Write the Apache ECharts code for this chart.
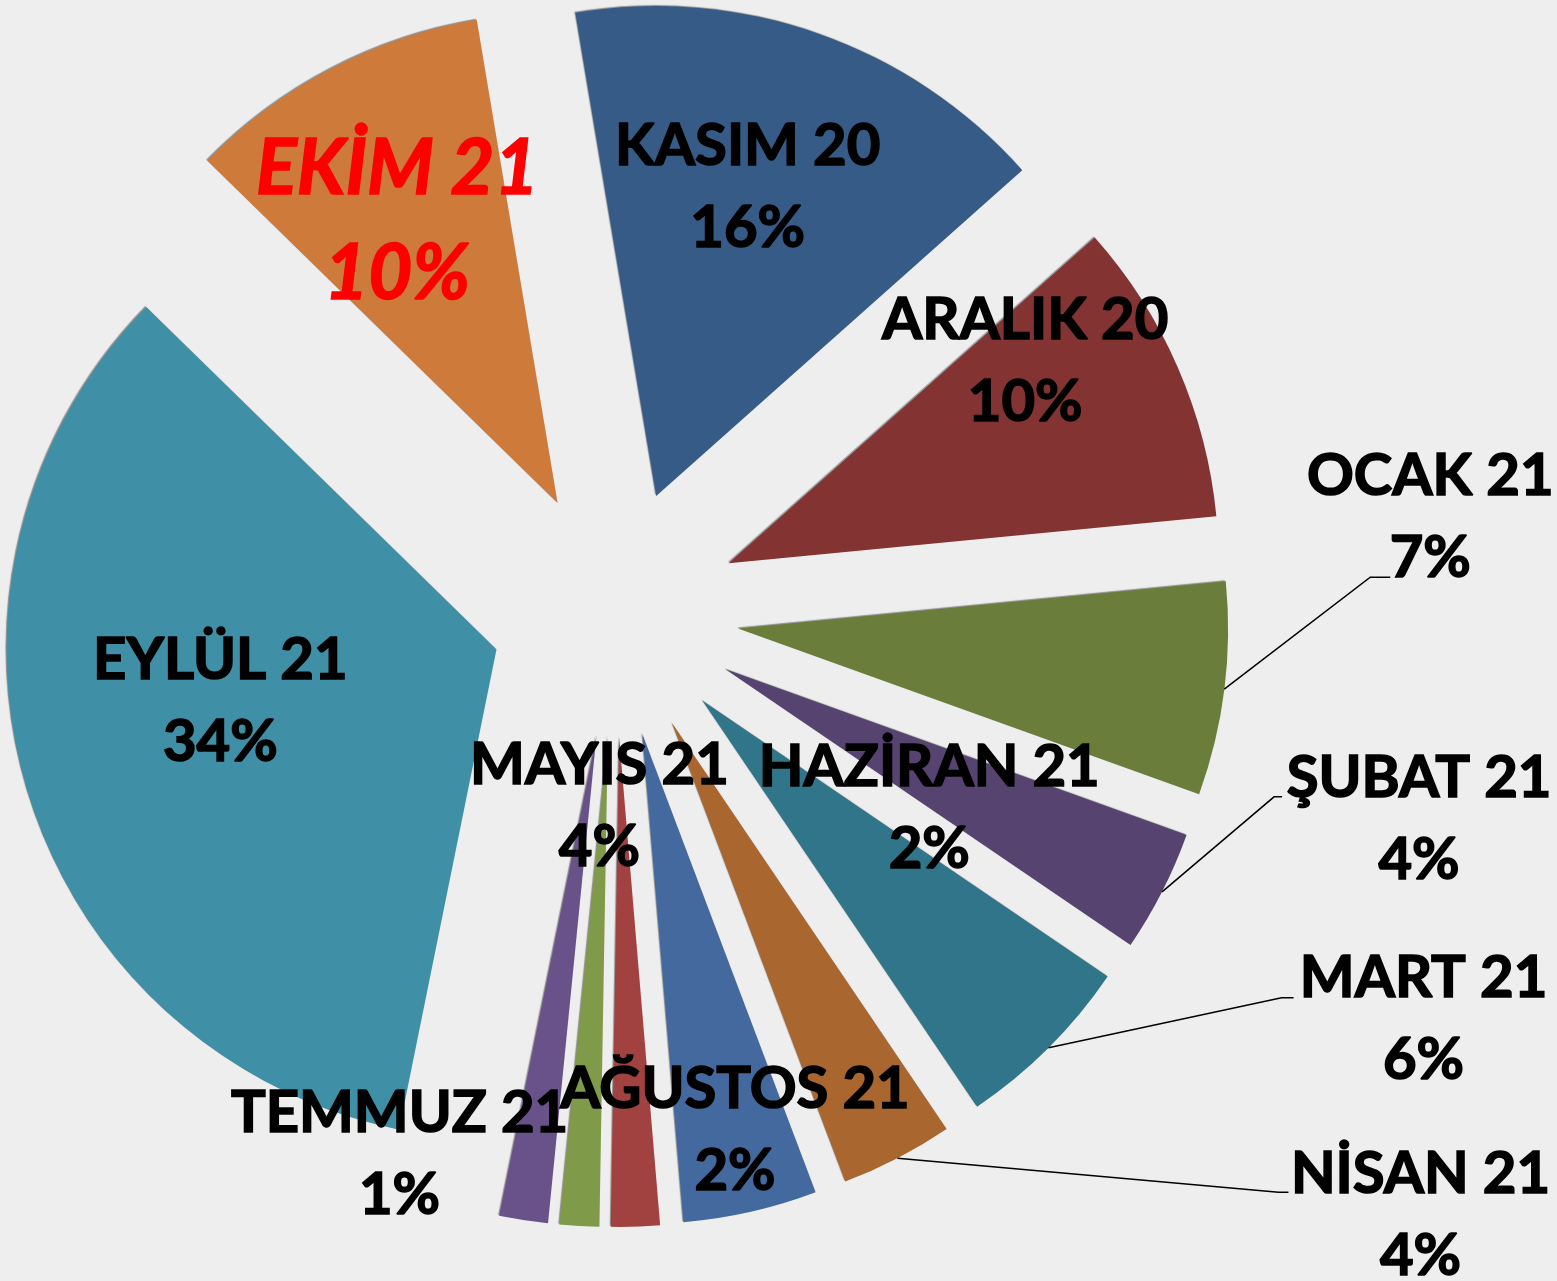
<!DOCTYPE html>
<html>
<head>
<meta charset="utf-8">
<script src="https://cdn.jsdelivr.net/npm/echarts@6/dist/echarts.min.js"></script>
<style>
html,body{margin:0;padding:0;background:#eeeeee;}
#chart{width:1557px;height:1281px;}
</style>
</head>
<body>
<div id="chart"></div>
<script>
// Data
const months = ['KASIM 20','ARALIK 20','OCAK 21','ŞUBAT 21','MART 21','NİSAN 21','MAYIS 21','HAZİRAN 21','TEMMUZ 21','AĞUSTOS 21','EYLÜL 21','EKİM 21'];
const shares = [16, 10, 7, 4, 6, 3.7, 4.4, 1.6, 1.3, 1.6, 34, 10];

// Styles / layout (not data)
const colors = ['#365B87','#833432','#6B7D3B','#56436F','#31758A','#A9662E','#43699E','#A14140','#7F9A48','#69528A','#3F8FA6','#CD7A3A'];
const hasLeader = [false,false,true,true,true,true,false,false,false,false,false,false];
// label shift from its anchor (mid-radius of exploded slice for inner labels, arc point for leader labels)
const labelShift = [[10,-78],[72,-104],[206,-172],[257,-73],[375,-28],[523,57],[-97,-167],[302,-173],[-194,173],[175,152],[-42,-20],[-47,-64]];
// leader line end relative to label centre, and horizontal tail length
const leaderEnd = [null,null,[-40,60,20],[-137,-22,8],[-130,-22,12],[-132,-23,10],null,null,null,null,null,null];

const CX = 615, CY = 613, R = 490, OFF = 124, START = 99.5;

const total = shares.reduce((a, b) => a + b, 0);
const mids = [];
(function () {
  let a = 90 - START;
  shares.forEach(v => { const s = v / total * 360; mids.push(a + s / 2); a += s; });
})();
function pointAt(i, dist) {
  const t = mids[i] * Math.PI / 180;
  return [CX + dist * Math.sin(t), CY - dist * Math.cos(t)];
}

const baseLabel = {
  fontFamily: 'Lato', fontWeight: 'bold', fontSize: 58, lineHeight: 82, color: '#000',
  textBorderColor: '#000', textBorderWidth: 1.6
};

// exploded slices
const sliceData = months.map((m, i) => ({ name: m, value: shares[i], selected: true, itemStyle: { color: colors[i] } }));

// same values, invisible: carries the data labels
const labelData = months.map((m, i) => {
  const item = { name: m, value: shares[i], itemStyle: { color: 'rgba(0,0,0,0)' } };
  item.label = Object.assign({}, baseLabel, { show: true, position: 'outside' });
  item.labelLine = hasLeader[i]
    ? { show: true, length: 30, length2: 20, lineStyle: { color: '#000', width: 1.5 } }
    : { show: false };
  if (m === 'EKİM 21') {
    Object.assign(item.label, { color: '#FF0000', textBorderColor: '#FF0000', fontStyle: 'italic', fontSize: 76, lineHeight: 105 });
  }
  return item;
});

const chart = echarts.init(document.getElementById('chart'), null, { renderer: 'canvas' });
chart.setOption({
  backgroundColor: '#eeeeee',
  animation: false,
  series: [{
    type: 'pie',
    center: [CX, CY],
    radius: [0, R],
    startAngle: START,
    clockwise: true,
    selectedMode: 'multiple',
    selectedOffset: OFF,
    label: { show: false },
    labelLine: { show: false },
    itemStyle: { shadowColor: 'rgba(0,0,0,0.4)', shadowBlur: 1, shadowOffsetX: -1, shadowOffsetY: -1 },
    emphasis: { disabled: true },
    data: sliceData
  }, {
    type: 'pie',
    center: [CX, CY],
    radius: [0, R],
    startAngle: START,
    clockwise: true,
    silent: true,
    selectedMode: false,
    avoidLabelOverlap: false,
    z: 5,
    emphasis: { disabled: true },
    label: { formatter: p => p.name + '\n' + Math.round(p.percent) + '%' },
    labelLayout: function (params) {
      const i = params.dataIndex;
      const anchor = pointAt(i, hasLeader[i] ? OFF + R : OFF + R / 2);
      const lx = anchor[0] + labelShift[i][0];
      const ly = anchor[1] + labelShift[i][1];
      const res = { x: lx, y: ly, align: 'center', verticalAlign: 'middle', hideOverlap: false };
      if (hasLeader[i]) {
        const e = leaderEnd[i];
        const end = [lx + e[0], ly + e[1]];
        res.labelLinePoints = [anchor, [end[0] - e[2], end[1]], end];
      }
      return res;
    },
    data: labelData
  }]
});
</script>
</body>
</html>
